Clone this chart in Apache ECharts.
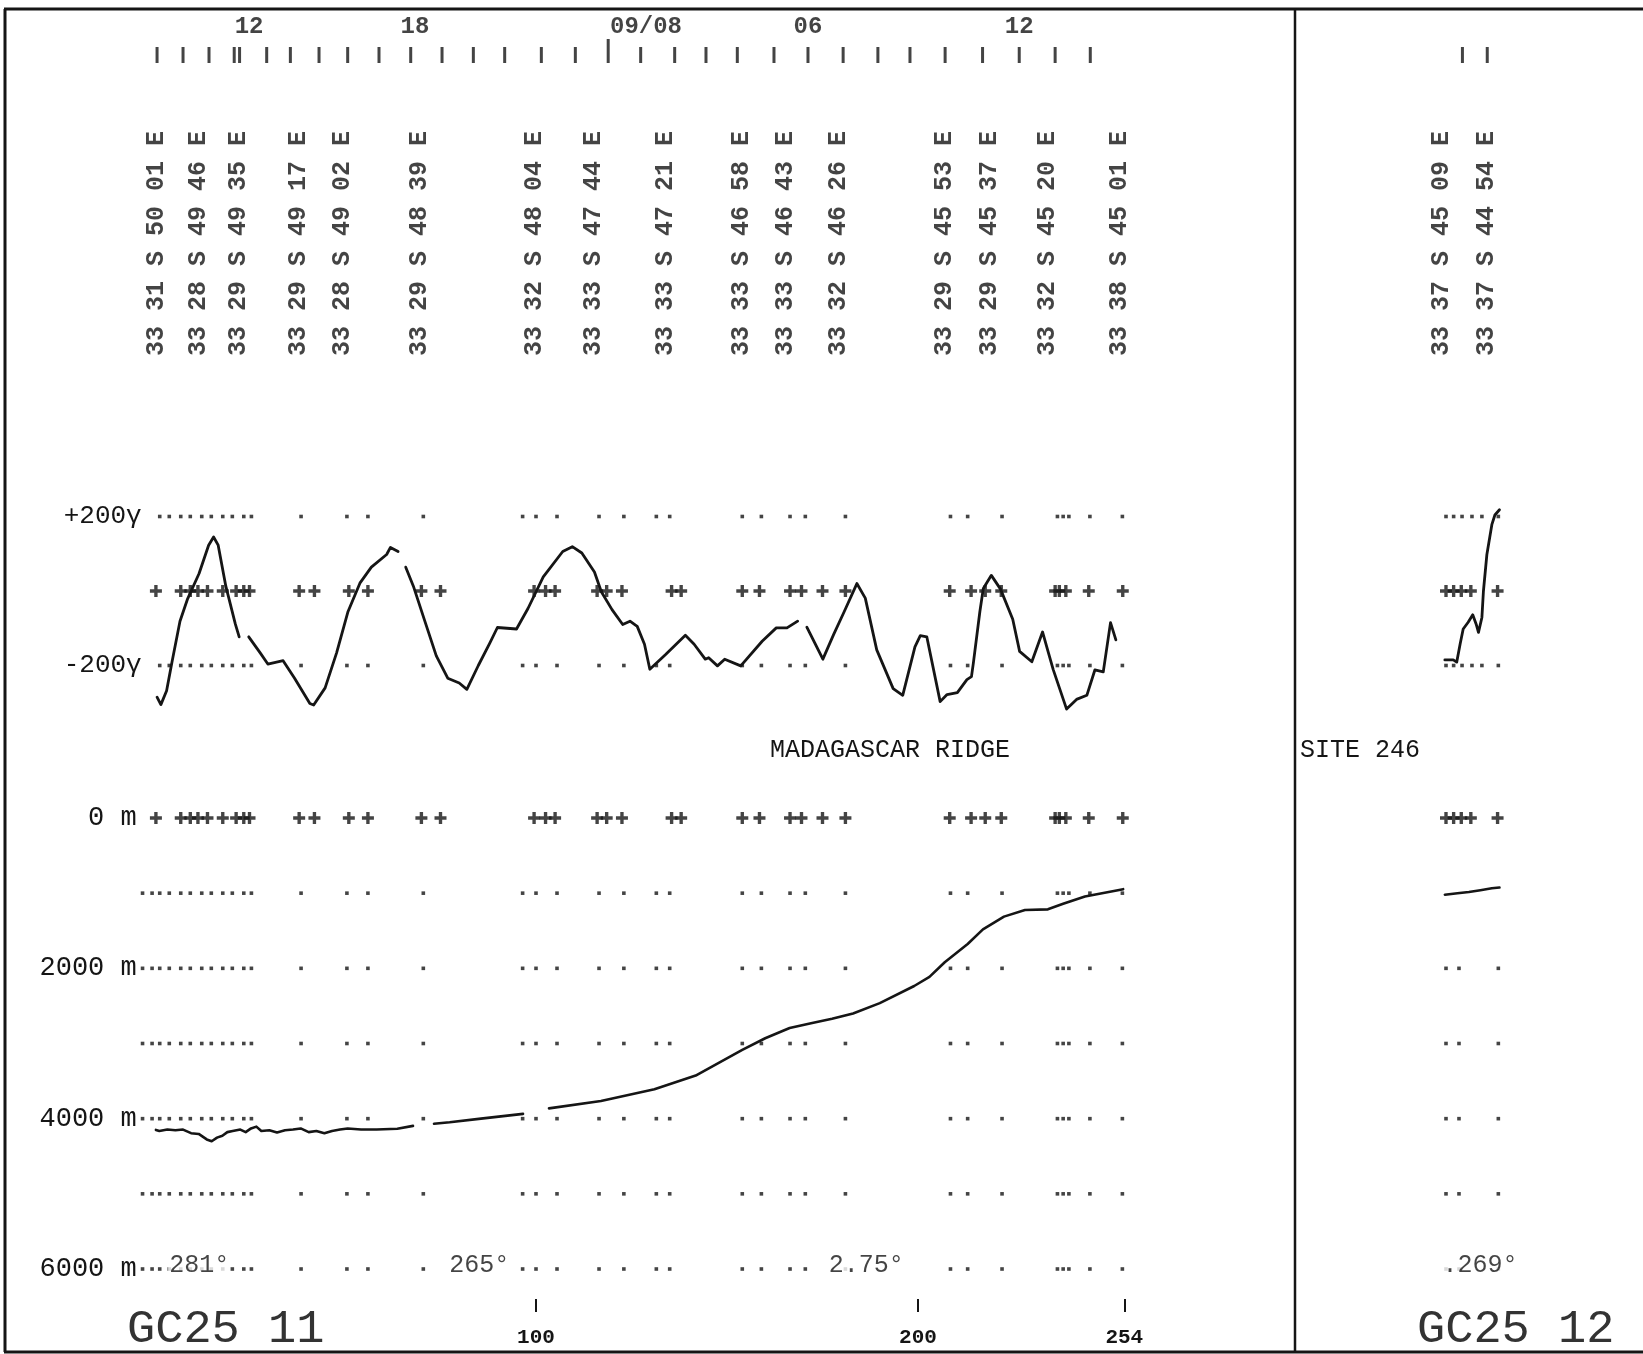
<!DOCTYPE html>
<html><head><meta charset="utf-8">
<script src="https://cdn.jsdelivr.net/npm/echarts@6/dist/echarts.min.js"></script>
<style>html,body{margin:0;padding:0;background:#fff}#c{width:1643px;height:1354px}</style>
</head><body><div id="c"></div>
<script>
// ---------- DATA ----------
// Magnetics, left segment (distance units, gamma); null = pen break
const magX = [0.8,1.8,3.3,4.7,6.8,8.8,11.8,14.3,15.6,16.8,18.8,21.3,22.3,23.3,24.8,27.8,29.8,33.8,36.8,40.8,41.8,44.8,47.8,50.8,53.9,56.9,60.9,61.9,63.9,64.8,65.9,67.9,70.9,73.9,76.9,79.9,81.9,84.9,87.9,89.9,94.9,97.9,101.9,107,109.5,112,115.3,117.1,119.9,122.7,124.6,126.5,128.4,129.8,130.3,134,139.1,141.4,144.3,145.2,147.5,149.4,153.6,159.2,162.9,165.7,168.5,169.7,170.9,175.1,177.9,180.7,184,186.2,189.2,193.5,196,199.2,200.6,202.3,205.8,207.6,210.3,212.8,214,214.5,216.2,217.1,219.2,221.6,224.8,226.6,229.8,232.6,234,235.4,238.9,241.5,244.2,246.3,248.5,250.4,251.8];
const magY = [-285,-305,-268,-191,-81,-21,47,123,145,123,13,-89,-123,null,-123,-166,-196,-187,-234,-302,-306,-260,-166,-55,21,64,98,117,106,null,64,13,-81,-174,-234,-247,-264,-200,-140,-98,-102,-47,38,106,119,102,51,-2,-50,-90,-81,-95,-143,-210,-214,-170,-119,-143,-183,-179,-201,-183,-201,-135,-99,-99,-81,null,-97,-183,-117,-55,20,-19,-158,-262,-280,-150,-120,-123,-297,-278,-273,-238,-230,-193,-55,7,42,5,-76,-162,-190,-110,-161,-211,-317,-291,-280,-212,-217,-85,-131];
// Bathymetry, left segment (distance units, metres)
const bathX = [0.5,1.4,3.5,5.6,7.6,9.7,11.7,13.8,15.1,16.5,17.9,19.2,20.6,22.6,24,25.4,26.8,28.1,30.2,32.2,34.3,36.4,38.4,40.5,42.5,44.6,46.6,48.7,50.7,54.2,58.3,63.7,67.8,70,73.3,77.4,85.6,96.6,97.5,103.4,117,131,141.8,154,160,166.4,172,177.5,183,190,199,203,207,213,217,222.5,228,234,238,243.7,253.7];
const bathY = [4150,4164,4145,4155,4145,4193,4203,4276,4300,4252,4227,4179,4164,4145,4179,4130,4106,4164,4155,4184,4155,4145,4130,4179,4164,4193,4164,4145,4130,4145,4145,4135,4096,null,4067,4048,3999,3936,null,3863,3766,3610,3426,3086,2930,2794,2730,2672,2600,2463,2235,2114,1919,1676,1482,1312,1224,1215,1142,1045,947];
// Right segment (GC25 12)
const rMagX = [-0.3,1.9,2.8,3.7,4.5,5.8,7,7.9,8.5,9.4,9.8,10.7,12,12.8,14];
const rMagY = [-185,-185,-191,-142,-102,-84,-64,-89,-111,-71,0,98,178,204,218];
const rBathX = [-0.3,3,6,9,12,14];
const rBathY = [1020,1000,985,960,935,925];
// Fix columns (dots on grid rows, crosses on zero rows)
const plusCols = [0.5,7,9.5,11.5,14,18,21.5,23.5,25,38,42,51,56,70,75,99.5,102.5,105,116,118.5,122.5,135.5,138,154,158.5,166.5,169.5,175,181,208.3,213.9,217.6,221.8,235.9,237,238.7,244.7,253.6];
const dotCols = [-3,-0.5,1.5,4,7,9.5,12.5,15,18,20.5,23.5,25.5,38.5,50.5,56,70.5,96.5,100,105.5,116.5,123,131.5,135,154,159,166.5,170.5,181,208.5,213,222,236.5,238,239.5,245,253.5];
const rPlusCols = [0,2,4,6.5,13.5];
const rDotCols = [0,2,4.2,6.8,9.4,13.7];
const rDepthDotCols = [0,3.4,13.7];
const magRows = [200,-200];
const depthRows = [1000,2000,3000,4000,5000,6000];
// Time ticks and labels
const timeTicks = [0.8,7.6,14.4,21.0,22.4,29.5,35.7,43.2,50.7,58.9,67.2,75.4,83.6,91.8,101.4,110.3,127.4,136.3,144.5,152.7,162.3,171.2,180.4,189.5,197.9,207.1,216.9,226.5,235.9,245.1];
const dayTicks = [118.9];
const rTimeTicks = [4.3,10.8];
const timeLabelX = [24.9,68.3,128.8,171.2,226.5];
const timeLabels = ['12','18','09/08','06','12'];
// Position fixes
const posX = [0.7,11.6,22.2,38,49.5,69.5,99.6,115.1,134,153.9,165.3,179.3,206.9,218.7,234,252.9];
const posText = ['33 31 S 50 01 E','33 28 S 49 46 E','33 29 S 49 35 E','33 29 S 49 17 E','33 28 S 49 02 E','33 29 S 48 39 E','33 32 S 48 04 E','33 33 S 47 44 E','33 33 S 47 21 E','33 33 S 46 58 E','33 33 S 46 43 E','33 32 S 46 26 E','33 29 S 45 53 E','33 29 S 45 37 E','33 32 S 45 20 E','33 38 S 45 01 E'];
const rPosX = [-1.2,10.7];
const rPosText = ['33 37 S 45 09 E','33 37 S 44 54 E'];
// Course headings
const headX = [3.7,77,176.4];
const headText = ['281°','265°','2.75°'];
const rHeadX = [-1.2];
const rHeadText = ['.269°'];
const distLabels = [100,200,254];

// ---------- CHART ----------
const INK = '#151515';
const MONO = "'Liberation Mono','DejaVu Sans Mono',monospace";
const PX = 3.82;
const L0 = -4, L1 = 256, R0 = -4, R1 = 16;
const leftX = 154 + L0*PX, leftW = (L1-L0)*PX;
const rightX = 1446 + R0*PX, rightW = (R1-R0)*PX;
const plusPath = 'path://M3.6,0h2.8v3.6h3.6v2.8h-3.6v3.6h-2.8v-3.6h-3.6v-2.8h3.6z';

const grids = [
  {left: leftX, width: leftW, top: 0, height: 380},
  {left: leftX, width: leftW, top: 442, height: 298},
  {left: leftX, width: leftW, top: 818, height: 451},
  {left: rightX, width: rightW, top: 0, height: 380},
  {left: rightX, width: rightW, top: 442, height: 298},
  {left: rightX, width: rightW, top: 818, height: 451}
];
const xAxes = grids.map((g,i) => {
  const isLeft = i < 3;
  const ax = {type:'value', gridIndex:i, min: isLeft?L0:R0, max: isLeft?L1:R1, show:false, splitLine:{show:false}};
  if (i === 2) {
    Object.assign(ax, {
      show: true, position: 'bottom', offset: 30,
      axisLine: {show:false, onZero:false},
      axisTick: {show:true, inside:false, length:13, customValues: distLabels, lineStyle:{color:INK, width:2}},
      axisLabel: {show:true, customValues: distLabels, margin: 28, color: INK, fontFamily: MONO, fontWeight:'bold', fontSize: 21}
    });
  }
  return ax;
});
const yAxes = [
  {type:'value', gridIndex:0, min:0, max:380, inverse:true, show:false},
  {type:'value', gridIndex:1, min:-400, max:400, interval:200, axisLine:{show:false}, axisTick:{show:false}, splitLine:{show:false},
    axisLabel:{margin:-3, color:INK, fontFamily:MONO, fontSize:26, formatter: v => v===200?'+200γ':(v===-200?'-200γ':'')}},
  {type:'value', gridIndex:2, min:0, max:6000, interval:1000, inverse:true, axisLine:{show:false}, axisTick:{show:false}, splitLine:{show:false},
    axisLabel:{margin:2, color:INK, fontFamily:MONO, fontSize:27, formatter: v => (v%2000===0)? (v+' m') : ''}},
  {type:'value', gridIndex:3, min:0, max:380, inverse:true, show:false},
  {type:'value', gridIndex:4, min:-400, max:400, show:false},
  {type:'value', gridIndex:5, min:0, max:6000, inverse:true, show:false}
];

function rowPts(cols, rows, filter) {
  const out = [];
  rows.forEach(r => cols.forEach(c => { if (!filter || filter(c)) out.push([c, r]); }));
  return out;
}
function pairs(xs, ys) { return xs.map((x,i) => [x, ys[i]===null ? '-' : ys[i]]); }
function dots(idx, data) {
  return {type:'scatter', xAxisIndex:idx, yAxisIndex:idx, data, symbol:'rect', symbolSize:3.6, clip:false,
    itemStyle:{color:INK}, silent:true, z:2};
}
function pluses(idx, data) {
  return {type:'scatter', xAxisIndex:idx, yAxisIndex:idx, data, symbol:plusPath, symbolSize:12, clip:false,
    itemStyle:{color:INK}, silent:true, z:2};
}
function line(idx, data, w) {
  return {type:'line', xAxisIndex:idx, yAxisIndex:idx, data, showSymbol:false, symbol:'none', connectNulls:false,
    lineStyle:{color:INK, width:w, join:'round', cap:'round'}, clip:false, z:5, silent:true};
}
function texts(idx, xs, texts, y, label) {
  return {type:'scatter', xAxisIndex:idx, yAxisIndex:idx, symbolSize:1, clip:false, itemStyle:{color:'rgba(0,0,0,0)'},
    data: xs.map((x,i) => ({value:[x, y], name: texts[i]})), silent:true, z:8,
    label: Object.assign({show:true, position:'inside', color:INK, formatter: p => p.name}, label)};
}
function ticks(idx, xs, y, h) {
  return {type:'scatter', xAxisIndex:idx, yAxisIndex:idx, data: xs.map(x => [x, y]), symbol:'rect', symbolSize:[3, h],
    clip:false, itemStyle:{color:INK}, silent:true};
}
const posLabel = {rotate:90, fontFamily:MONO, fontWeight:'bold', fontSize:25, align:'center', verticalAlign:'middle'};
const headLabel = {fontFamily:MONO, fontSize:25, align:'left', verticalAlign:'middle', backgroundColor:'#fff', padding:[0,1,0,1]};

const series = [
  ticks(0, timeTicks, 55, 16),
  ticks(0, dayTicks, 51, 24),
  texts(0, timeLabelX, timeLabels, 27, {fontFamily:MONO, fontWeight:'bold', fontSize:24}),
  texts(0, posX, posText, 243.5, posLabel),
  dots(1, rowPts(dotCols, magRows, c => c >= 0)),
  pluses(1, rowPts(plusCols, [0])),
  line(1, pairs(magX, magY), 2.8),
  pluses(2, rowPts(plusCols, [0])),
  dots(2, rowPts(dotCols, depthRows)),
  line(2, pairs(bathX, bathY), 2.6),
  texts(2, headX, headText, 5950, headLabel),
  ticks(3, rTimeTicks, 55, 16),
  texts(3, rPosX, rPosText, 243.5, posLabel),
  dots(4, rowPts(rDotCols, magRows)),
  pluses(4, rowPts(rPlusCols, [0])),
  line(4, pairs(rMagX, rMagY), 2.8),
  pluses(5, rowPts(rPlusCols, [0])),
  dots(5, rowPts(rDepthDotCols, depthRows.filter(d => d !== 1000))),
  line(5, pairs(rBathX, rBathY), 2.6),
  texts(5, rHeadX, rHeadText, 5950, headLabel)
];

const graphic = [
  {type:'line', shape:{x1:5, y1:9, x2:5, y2:1352}, style:{stroke:INK, lineWidth:3}, silent:true},
  {type:'line', shape:{x1:4, y1:9, x2:1643, y2:9}, style:{stroke:INK, lineWidth:3}, silent:true},
  {type:'line', shape:{x1:4, y1:1352, x2:1643, y2:1352}, style:{stroke:INK, lineWidth:3}, silent:true},
  {type:'line', shape:{x1:1295, y1:9, x2:1295, y2:1352}, style:{stroke:INK, lineWidth:2.5}, silent:true},
  {type:'text', left:770, top:738, style:{text:'MADAGASCAR RIDGE', fill:INK, font:"25px 'Liberation Mono','DejaVu Sans Mono',monospace"}, silent:true},
  {type:'text', left:1300, top:738, style:{text:'SITE 246', fill:INK, font:"25px 'Liberation Mono','DejaVu Sans Mono',monospace"}, silent:true},
  {type:'text', left:127, top:1306, style:{text:'GC25 11', fill:'#333', font:"47px 'Liberation Mono','DejaVu Sans Mono',monospace"}, silent:true},
  {type:'text', left:1417, top:1306, style:{text:'GC25 12', fill:'#333', font:"47px 'Liberation Mono','DejaVu Sans Mono',monospace"}, silent:true}
];

const chart = echarts.init(document.getElementById('c'), null, {renderer:'canvas', width:1643, height:1354});
chart.setOption({
  animation:false, backgroundColor:'#fff',
  grid: grids, xAxis: xAxes, yAxis: yAxes, series, graphic
});
</script></body></html>
